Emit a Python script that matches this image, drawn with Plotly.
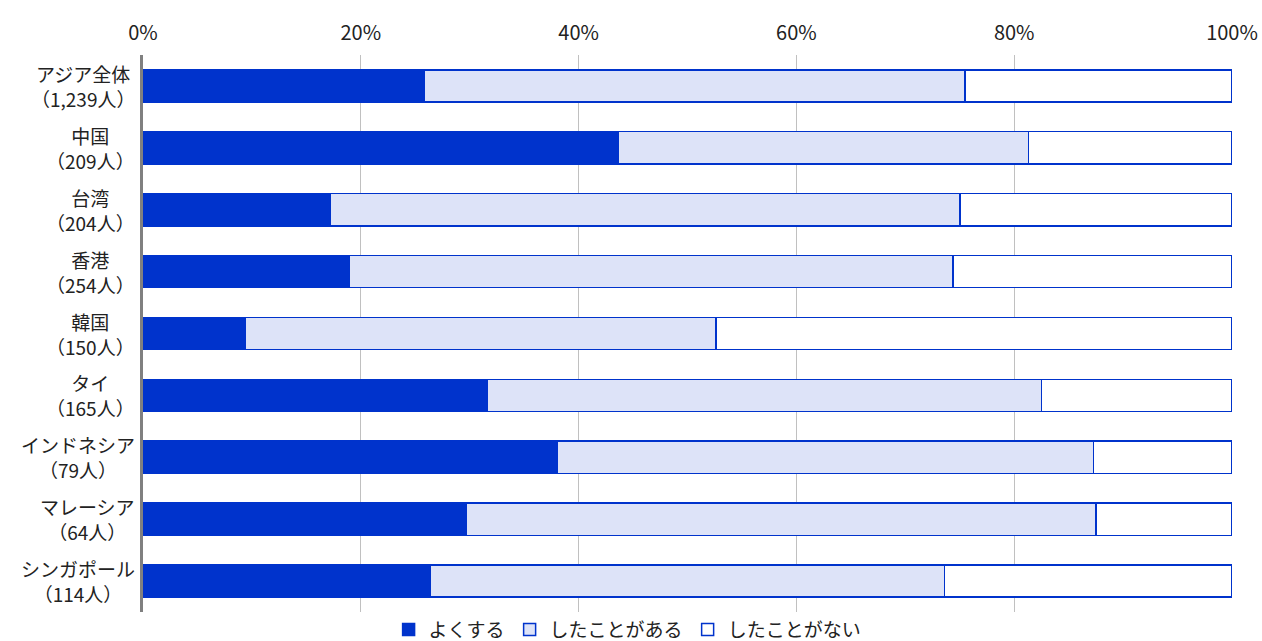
import plotly.graph_objects as go

categories = ["アジア全体", "中国", "台湾", "香港", "韓国", "タイ", "インドネシア", "マレーシア", "シンガポール"]
respondents = ["1,239人", "209人", "204人", "254人", "150人", "165人", "79人", "64人", "114人"]
often = [25.8, 43.6, 17.2, 18.9, 9.4, 31.6, 38.0, 29.7, 26.4]
have_done = [49.7, 37.7, 57.8, 55.5, 43.2, 50.9, 49.3, 57.8, 47.2]
never = [24.5, 18.7, 25.0, 25.6, 47.4, 17.5, 12.7, 12.5, 26.4]
series_names = ["よくする", "したことがある", "したことがない"]
tick_vals = [0, 20, 40, 60, 80, 100]
tick_text = ["0%", "20%", "40%", "60%", "80%", "100%"]

FONT = "Noto Sans CJK JP"
BLUE = "#0033CC"
fills = [BLUE, "#DDE3F8", "#FFFFFF"]
TXT = "#222222"

fig = go.Figure()
for name, vals, col in zip(series_names, [often, have_done, never], fills):
    fig.add_trace(go.Bar(
        y=categories, x=vals, name=name, orientation="h",
        marker=dict(color=col, line=dict(color=BLUE, width=1.5)),
        width=0.52,
    ))

for cat, resp in zip(categories, respondents):
    fig.add_annotation(
        xref="paper", yref="y", x=0, y=cat, xanchor="right", yanchor="middle",
        xshift=-6, text=f"{cat}<br>（{resp}）", showarrow=False, align="center",
        font=dict(family=FONT, size=19, color=TXT),
    )

fig.update_layout(
    barmode="stack",
    width=1262, height=641,
    margin=dict(l=143, r=30, t=55, b=29, autoexpand=False),
    paper_bgcolor="white", plot_bgcolor="white",
    font=dict(family=FONT, size=19, color=TXT),
    showlegend=True,
    legend=dict(orientation="h", x=0.445, xanchor="center", y=-0.066, yanchor="bottom",
                font=dict(family=FONT, size=19, color=TXT),
                traceorder="normal", itemwidth=30, bgcolor="rgba(0,0,0,0)"),
    xaxis=dict(side="top", range=[0, 100], tickvals=tick_vals, ticktext=tick_text,
               showgrid=True, gridcolor="#C0C0C0", gridwidth=1, zeroline=False,
               showline=False, ticks="", ticklabelstandoff=10,
               tickfont=dict(family=FONT, size=20, color=TXT)),
    yaxis=dict(autorange="reversed", showticklabels=False, showgrid=False,
               showline=True, linecolor="#808080", linewidth=3, ticks="", zeroline=False),
)

fig.write_html("out.html")
